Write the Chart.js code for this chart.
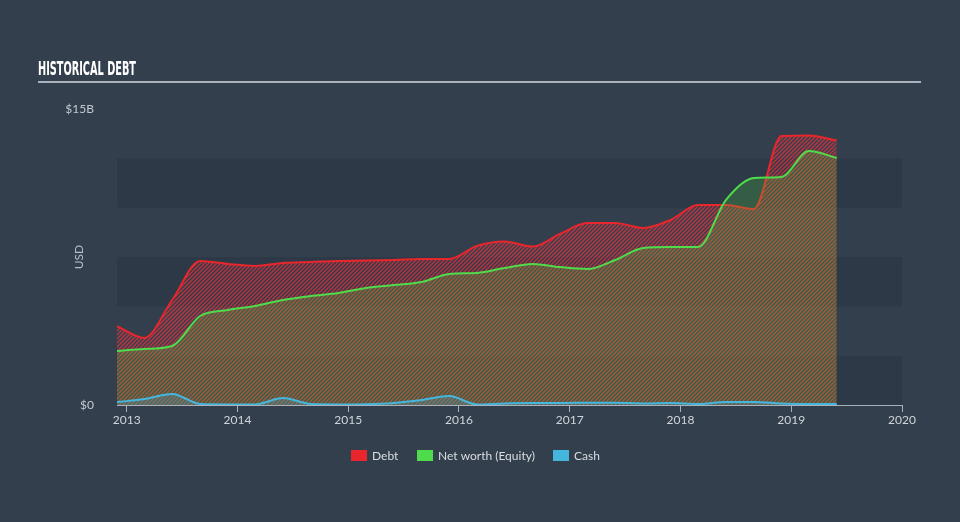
<!DOCTYPE html>
<html>
<head>
<meta charset="utf-8">
<script src="https://cdn.jsdelivr.net/npm/chart.js@4.4.0/dist/chart.umd.min.js"></script>
<style>
html,body{margin:0;padding:0;background:#333f4d;}
#wrap{width:960px;height:522px;position:relative;}
canvas{display:block;}
</style>
</head>
<body>
<div id="wrap"><canvas id="c" width="960" height="522"></canvas></div>
<script>
// ---- data (USD billions) ----
const dates = ['2012-11-30','2013-02-28','2013-05-31','2013-08-31','2013-11-30',
  '2014-02-28','2014-05-31','2014-08-31','2014-11-30',
  '2015-02-28','2015-05-31','2015-08-31','2015-11-30',
  '2016-02-29','2016-05-31','2016-08-31','2016-11-30',
  '2017-02-28','2017-05-31','2017-08-31','2017-11-30',
  '2018-02-28','2018-05-31','2018-08-31','2018-11-30',
  '2019-02-28','2019-05-31'];
const debt = [4.00,3.40,5.32,7.30,7.15,7.05,7.20,7.25,7.30,7.32,7.35,7.40,7.40,
  8.06,8.29,8.03,8.67,9.22,9.22,8.97,9.38,10.14,10.14,9.93,13.63,13.66,13.40];
const equity = [2.74,2.84,2.99,4.51,4.81,5.02,5.32,5.52,5.68,5.93,6.08,6.23,6.64,
  6.69,6.94,7.15,6.99,6.89,7.35,7.96,8.01,8.01,10.39,11.50,11.56,12.87,12.52];
const cash = [0.15,0.30,0.56,0.05,0.03,0.03,0.35,0.05,0.03,0.04,0.10,0.25,0.45,
  0.03,0.08,0.10,0.10,0.12,0.12,0.08,0.10,0.05,0.15,0.15,0.08,0.05,0.05];
const yearTicks = [2013,2014,2015,2016,2017,2018,2019,2020];
const yLabels = {0:'$0', 15:'$15B'};
const seriesNames = ['Debt','Net worth (Equity)','Cash'];
const seriesColors = ['#e8262b','#4fdc4a','#45b6de'];

function toYear(s){
  const d = new Date(s+'T00:00:00Z');
  const y = d.getUTCFullYear();
  const start = Date.UTC(y,0,1), end = Date.UTC(y+1,0,1);
  return y + (d.getTime()-start)/(end-start);
}
const xs = dates.map(toYear);
const pts = arr => arr.map((v,i)=>({x:xs[i], y:v}));

// hatch pattern for debt
function hatch(color){
  const p = document.createElement('canvas');
  p.width = 4; p.height = 4;
  const g = p.getContext('2d');
  g.strokeStyle = color; g.lineWidth = 1.5;
  g.beginPath();
  g.moveTo(0,4); g.lineTo(4,0);
  g.moveTo(-1,1); g.lineTo(1,-1);
  g.moveTo(3,5); g.lineTo(5,3);
  g.stroke();
  return document.getElementById('c').getContext('2d').createPattern(p,'repeat');
}

const FONT = 'Lato, "Open Sans", sans-serif';

const decor = {
  id:'decor',
  beforeDraw(chart){
    const {ctx, chartArea:a, scales:{y}} = chart;
    ctx.save();
    ctx.fillStyle = '#333f4d';
    ctx.fillRect(0,0,chart.width,chart.height);
    // bands
    for (let v=0; v<15; v+=2.5){
      const idx = Math.round(v/2.5);
      const top = y.getPixelForValue(v+2.5), bot = y.getPixelForValue(v);
      ctx.fillStyle = idx%2===0 ? '#2e3947' : '#333f4d';
      ctx.fillRect(a.left, top, a.right-a.left, bot-top);
    }
    ctx.restore();
  },
  afterDraw(chart){
    const {ctx} = chart;
    ctx.save();
    // title
    ctx.fillStyle = '#ffffff';
    ctx.font = 'bold 19px "Liberation Sans Narrow", "DejaVu Sans Condensed", sans-serif';
    ctx.textBaseline = 'alphabetic';
    const t = 'HISTORICAL DEBT';
    const w = ctx.measureText(t).width;
    ctx.translate(38, 75);
    ctx.scale(98/w, 1);
    ctx.fillText(t, 0, 0);
    ctx.restore();
    ctx.save();
    ctx.strokeStyle = '#aab1ba'; ctx.lineWidth = 2;
    ctx.beginPath(); ctx.moveTo(38,82); ctx.lineTo(921,82); ctx.stroke();
    // USD
    ctx.fillStyle = '#b9bfc7';
    ctx.font = '12px ' + FONT;
    ctx.textAlign = 'center'; ctx.textBaseline = 'middle';
    ctx.translate(79,257); ctx.rotate(-Math.PI/2);
    ctx.fillText('USD',0,0);
    ctx.restore();
    // legend
    ctx.save();
    ctx.font = '12px ' + FONT;
    ctx.textBaseline = 'middle';
    const boxX = [351,417,553];
    for (let i=0;i<3;i++){
      ctx.fillStyle = seriesColors[i];
      ctx.fillRect(boxX[i],450,16,11);
      ctx.fillStyle = '#d9dde2';
      ctx.fillText(seriesNames[i], boxX[i]+21, 456);
    }
    ctx.restore();
  }
};

new Chart(document.getElementById('c'), {
  type:'line',
  data:{
    datasets:[
      {label:seriesNames[0], data:pts(debt), borderColor:seriesColors[0], borderWidth:2,
       backgroundColor:hatch('rgba(236,50,62,0.72)'), fill:'origin', order:3},
      {label:seriesNames[1], data:pts(equity), borderColor:seriesColors[1], borderWidth:2,
       backgroundColor:'rgba(80,220,60,0.22)', fill:'origin', order:2},
      {label:seriesNames[2], data:pts(cash), borderColor:seriesColors[2], borderWidth:2,
       backgroundColor:'rgba(70,182,222,0.22)', fill:'origin', order:1}
    ]
  },
  options:{
    responsive:false, animation:false,
    layout:{padding:{top:109,right:58,bottom:0,left:0}},
    elements:{point:{radius:0}, line:{cubicInterpolationMode:'monotone'}},
    plugins:{legend:{display:false}, tooltip:{enabled:false}},
    scales:{
      x:{type:'linear', min:xs[0], max:2020,
        afterBuildTicks(s){ s.ticks = yearTicks.map(v=>({value:v})); },
        afterFit(s){ s.height = 117; },
        grid:{drawOnChartArea:false, drawTicks:true, tickLength:7, color:'#aab1ba', lineWidth:1},
        border:{display:true, color:'#aab1ba', width:1},
        ticks:{padding:1, color:'#d0d5db', font:{family:FONT, size:12}, maxRotation:0,
          callback:v=>String(v)}
      },
      y:{min:0, max:15,
        afterBuildTicks(s){ s.ticks = [{value:0},{value:15}]; },
        afterFit(s){ s.width = 117; },
        grid:{display:false}, border:{display:false},
        ticks:{padding:15, color:'#c3c8cf', font:{family:FONT, size:12},
          callback:v=>yLabels[v] || ''}
      }
    }
  },
  plugins:[decor]
});
</script>
</body>
</html>
